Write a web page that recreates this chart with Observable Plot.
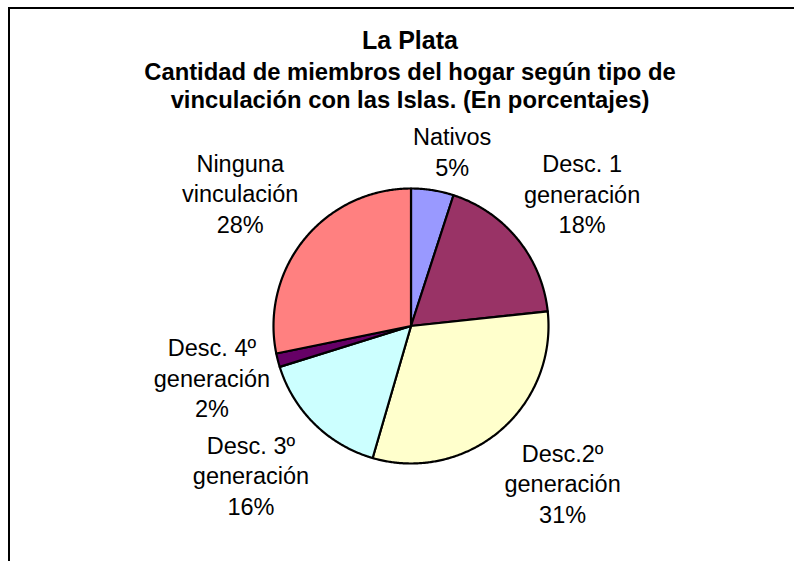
<!DOCTYPE html>
<html>
<head>
<meta charset="utf-8">
<script src="https://cdn.jsdelivr.net/npm/d3@7"></script>
<script src="https://cdn.jsdelivr.net/npm/@observablehq/plot@0.6"></script>
<style>
  body { margin: 0; background: #fff; }
  #wrap { position: relative; width: 794px; height: 561px; overflow: hidden; font-family: "Liberation Sans", Arial, sans-serif; background: #fff; }
  #frame { position: absolute; left: 8px; top: 7px; right: -20px; bottom: -20px; border-top: 2px solid #000; border-left: 2px solid #000; }
  .t { position: absolute; left: 0; width: 820px; text-align: center; font-weight: bold; color: #000; white-space: nowrap; }
  #title { top: 28px; font-size: 25px; line-height: 25px; }
  #subtitle { top: 58px; font-size: 23.8px; line-height: 28px; }
  #chart { position: absolute; left: 0; top: 0; }
</style>
</head>
<body>
<div id="wrap">
  <div id="frame"></div>
  <div id="title" class="t"></div>
  <div id="subtitle" class="t"></div>
  <div id="chart"></div>
</div>
<script>
// ---- data ----
const title = "La Plata";
const subtitleLines = ["Cantidad de miembros del hogar según tipo de", "vinculación con las Islas. (En porcentajes)"];
const categories = ["Nativos", "Desc. 1\ngeneración", "Desc.2º\ngeneración", "Desc. 3º\ngeneración", "Desc. 4º\ngeneración", "Ninguna\nvinculación"];
const values = [5.0, 18.3, 31.2, 15.7, 1.6, 28.2];

// ---- style / layout ----
const colors = ["#9999FF", "#993366", "#FFFFCC", "#CCFFFF", "#660066", "#FF8080"];
const W = 794, H = 561;
const cx = 410.5, cy = 325.5, R = 137.5;
const fontSize = 23.5, lineHeight = 1.3, gap = 8, pullX = 3, pullY = 1.4, labelDy = -1;
const font = '"Liberation Sans", Arial, sans-serif';

document.getElementById("title").textContent = title;
document.getElementById("subtitle").innerHTML = subtitleLines.join("<br>");

// slices as planar polygons (unit radius, y down)
const arcs = d3.pie().sort(null).value(d => d)(values);
const slices = arcs.map((a, i) => {
  const n = Math.max(2, Math.ceil((a.endAngle - a.startAngle) / (Math.PI / 360)));
  const ring = [[0, 0]];
  for (let k = 0; k <= n; k++) {
    const t = a.startAngle + (a.endAngle - a.startAngle) * k / n;
    ring.push([Math.sin(t), -Math.cos(t)]);
  }
  ring.push([0, 0]);
  return {type: "Feature", properties: {cat: categories[i]}, geometry: {type: "Polygon", coordinates: [ring]}};
});

// labels positioned outside the pie at each slice's mid-angle
const ctx = document.createElement("canvas").getContext("2d");
ctx.font = `${fontSize}px ${font}`;
const clamp = v => Math.max(-1, Math.min(1, v));
const labels = arcs.map((a, i) => {
  const text = `${categories[i]}\n${Math.round(values[i])}%`;
  const lines = text.split("\n");
  const w = d3.max(lines, l => ctx.measureText(l).width) / 2;
  const h = lines.length * fontSize * lineHeight / 2;
  const mid = (a.startAngle + a.endAngle) / 2;
  const ux = Math.sin(mid), uy = -Math.cos(mid);
  const px = (R + gap) * ux + w * clamp(pullX * ux);
  const py = (R + gap) * uy + h * clamp(pullY * uy);
  return {x: px / R, y: py / R, text};
});

const chart = Plot.plot({
  width: W,
  height: H,
  marginLeft: cx - R,
  marginRight: W - cx - R,
  marginTop: cy - R,
  marginBottom: H - cy - R,
  projection: {
    type: "identity",
    clip: false,
    domain: {type: "Polygon", coordinates: [[[-1, -1], [1, -1], [1, 1], [-1, 1], [-1, -1]]]}
  },
  color: {type: "ordinal", domain: categories, range: colors},
  style: {fontFamily: font, background: "transparent", overflow: "visible"},
  marks: [
    Plot.geo(slices, {fill: d => d.properties.cat, stroke: "#000", strokeWidth: 2.2, strokeLinejoin: "round"}),
    Plot.text(labels, {x: "x", y: "y", text: "text", dy: labelDy, fontSize, lineHeight, lineAnchor: "middle", textAnchor: "middle", fill: "#000", fontFamily: font})
  ]
});
document.getElementById("chart").appendChild(chart);
</script>
</body>
</html>
